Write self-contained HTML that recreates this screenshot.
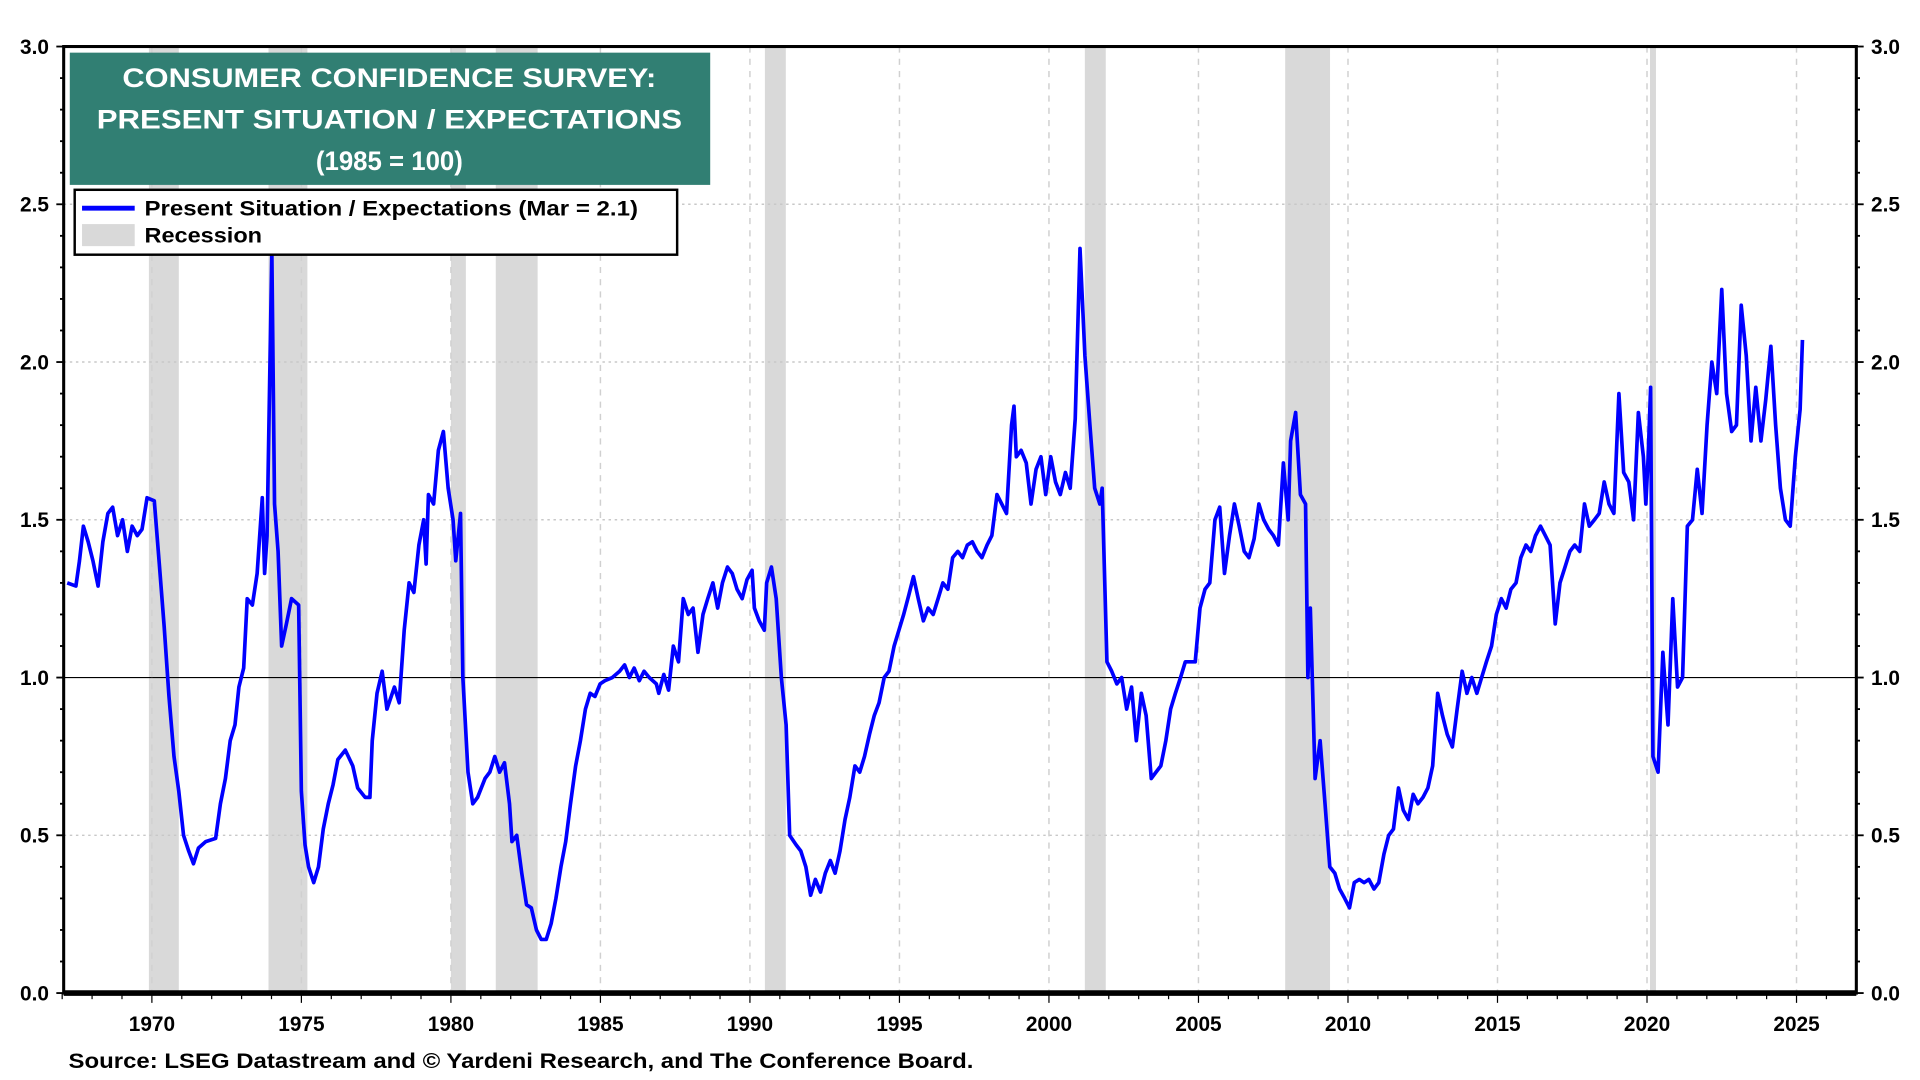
<!DOCTYPE html>
<html><head><meta charset="utf-8"><style>
html,body{margin:0;padding:0;background:#fff;}
svg{display:block;font-family:"Liberation Sans",Arial,sans-serif;font-weight:bold;}
</style></head><body>
<svg id="chart" width="1920" height="1080" viewBox="0 0 1568 882" xmlns="http://www.w3.org/2000/svg">
<g id="recessions"></g>
<g id="grid"></g>
<g id="axes"></g>
<g id="series"></g>
<rect x="52" y="38" width="1464" height="773" fill="none" stroke="#000" stroke-width="2.5"/>
<line x1="52" y1="811" x2="1516" y2="811" stroke="#000" stroke-width="4.5"/>
<g>
<rect x="57" y="43" width="523" height="108" fill="#317f73"/>
<text x="318" y="71" fill="#fff" font-size="22" text-anchor="middle" textLength="436" lengthAdjust="spacingAndGlyphs">CONSUMER CONFIDENCE SURVEY:</text>
<text x="318" y="105" fill="#fff" font-size="22" text-anchor="middle" textLength="478" lengthAdjust="spacingAndGlyphs">PRESENT SITUATION / EXPECTATIONS</text>
<text x="318" y="139" fill="#fff" font-size="22" text-anchor="middle" textLength="120" lengthAdjust="spacingAndGlyphs">(1985 = 100)</text>
</g>
<g>
<rect x="61" y="155" width="492" height="53" fill="#fff" stroke="#000" stroke-width="2"/>
<line x1="67" y1="170" x2="110" y2="170" stroke="#0000ff" stroke-width="4"/>
<text x="118" y="176" font-size="17" textLength="403" lengthAdjust="spacingAndGlyphs">Present Situation / Expectations (Mar = 2.1)</text>
<rect x="67" y="183" width="43" height="18" fill="#d9d9d9"/>
<text x="118" y="198" font-size="17" textLength="96" lengthAdjust="spacingAndGlyphs">Recession</text>
</g>
<text x="56" y="872" font-size="17" textLength="739" lengthAdjust="spacingAndGlyphs">Source: LSEG Datastream and © Yardeni Research, and The Conference Board.</text>
</svg>
<script>
const years=[1967.17,1967.46,1967.58,1967.71,1967.87,1968.03,1968.20,1968.36,1968.53,1968.69,1968.85,1969.02,1969.18,1969.34,1969.51,1969.67,1969.84,1970.08,1970.25,1970.41,1970.57,1970.74,1970.90,1971.06,1971.23,1971.39,1971.56,1971.80,1972.13,1972.29,1972.46,1972.62,1972.78,1972.91,1973.07,1973.19,1973.36,1973.52,1973.69,1973.77,1973.85,1974.01,1974.10,1974.22,1974.34,1974.50,1974.67,1974.91,1975.00,1975.12,1975.24,1975.41,1975.57,1975.73,1975.90,1976.06,1976.22,1976.47,1976.72,1976.88,1977.13,1977.29,1977.37,1977.53,1977.70,1977.86,1978.11,1978.27,1978.44,1978.60,1978.76,1978.93,1979.09,1979.17,1979.25,1979.42,1979.58,1979.75,1979.91,1980.07,1980.16,1980.32,1980.40,1980.57,1980.73,1980.89,1981.14,1981.30,1981.47,1981.63,1981.79,1981.96,1982.04,1982.20,1982.37,1982.53,1982.69,1982.86,1983.02,1983.19,1983.35,1983.51,1983.68,1983.84,1984.00,1984.17,1984.33,1984.50,1984.66,1984.82,1984.99,1985.15,1985.40,1985.64,1985.81,1985.97,1986.13,1986.30,1986.46,1986.63,1986.87,1986.95,1987.12,1987.28,1987.44,1987.61,1987.77,1987.94,1988.10,1988.26,1988.43,1988.59,1988.76,1988.92,1989.08,1989.25,1989.41,1989.57,1989.74,1989.90,1990.07,1990.15,1990.31,1990.48,1990.56,1990.72,1990.88,1991.05,1991.21,1991.33,1991.54,1991.70,1991.87,1992.03,1992.19,1992.36,1992.52,1992.69,1992.85,1993.01,1993.18,1993.34,1993.51,1993.67,1993.83,1994.00,1994.16,1994.32,1994.49,1994.65,1994.82,1994.98,1995.14,1995.31,1995.47,1995.63,1995.80,1995.96,1996.13,1996.29,1996.45,1996.62,1996.78,1996.95,1997.11,1997.27,1997.44,1997.60,1997.76,1997.93,1998.09,1998.26,1998.42,1998.58,1998.75,1998.83,1998.91,1999.07,1999.24,1999.40,1999.57,1999.73,1999.89,2000.06,2000.22,2000.38,2000.55,2000.71,2000.88,2001.04,2001.20,2001.37,2001.53,2001.70,2001.78,2001.94,2002.10,2002.27,2002.43,2002.60,2002.76,2002.92,2003.09,2003.25,2003.42,2003.58,2003.74,2003.91,2004.07,2004.23,2004.40,2004.56,2004.73,2004.89,2005.05,2005.22,2005.38,2005.55,2005.71,2005.87,2006.04,2006.20,2006.36,2006.53,2006.69,2006.86,2007.02,2007.18,2007.35,2007.51,2007.67,2007.84,2008.00,2008.08,2008.25,2008.41,2008.58,2008.66,2008.74,2008.90,2009.07,2009.23,2009.39,2009.56,2009.72,2009.89,2010.05,2010.21,2010.38,2010.54,2010.70,2010.87,2011.03,2011.20,2011.36,2011.52,2011.69,2011.85,2012.02,2012.18,2012.34,2012.51,2012.67,2012.83,2013.00,2013.16,2013.32,2013.49,2013.65,2013.82,2013.98,2014.14,2014.31,2014.47,2014.63,2014.80,2014.96,2015.13,2015.29,2015.45,2015.62,2015.78,2015.95,2016.11,2016.27,2016.44,2016.60,2016.76,2016.93,2017.09,2017.26,2017.42,2017.58,2017.75,2017.91,2018.07,2018.24,2018.40,2018.57,2018.73,2018.89,2019.06,2019.22,2019.39,2019.55,2019.71,2019.88,2019.96,2020.04,2020.12,2020.20,2020.37,2020.53,2020.70,2020.86,2021.02,2021.19,2021.35,2021.52,2021.68,2021.84,2022.01,2022.17,2022.33,2022.50,2022.66,2022.83,2022.99,2023.15,2023.32,2023.48,2023.64,2023.81,2023.97,2024.14,2024.30,2024.46,2024.63,2024.79,2024.96,2025.12,2025.20];
const ratio=[1.30,1.29,1.37,1.48,1.43,1.37,1.29,1.43,1.52,1.54,1.45,1.50,1.40,1.48,1.45,1.47,1.57,1.56,1.36,1.16,0.94,0.75,0.64,0.50,0.45,0.41,0.46,0.48,0.49,0.60,0.68,0.80,0.85,0.97,1.03,1.25,1.23,1.33,1.57,1.33,1.45,2.35,1.55,1.40,1.10,1.17,1.25,1.23,0.64,0.47,0.40,0.35,0.40,0.52,0.60,0.66,0.74,0.77,0.72,0.65,0.62,0.62,0.80,0.95,1.02,0.90,0.97,0.92,1.15,1.30,1.27,1.42,1.50,1.36,1.58,1.55,1.72,1.78,1.60,1.50,1.37,1.52,1.00,0.70,0.60,0.62,0.68,0.70,0.75,0.70,0.73,0.60,0.48,0.50,0.38,0.28,0.27,0.20,0.17,0.17,0.22,0.30,0.40,0.48,0.60,0.72,0.80,0.90,0.95,0.94,0.98,0.99,1.00,1.02,1.04,1.00,1.03,0.99,1.02,1.00,0.98,0.95,1.01,0.96,1.10,1.05,1.25,1.20,1.22,1.08,1.20,1.25,1.30,1.22,1.30,1.35,1.33,1.28,1.25,1.31,1.34,1.22,1.18,1.15,1.30,1.35,1.25,1.00,0.85,0.50,0.47,0.45,0.40,0.31,0.36,0.32,0.38,0.42,0.38,0.45,0.55,0.62,0.72,0.70,0.75,0.82,0.88,0.92,1.00,1.02,1.10,1.15,1.20,1.26,1.32,1.25,1.18,1.22,1.20,1.25,1.30,1.28,1.38,1.40,1.38,1.42,1.43,1.40,1.38,1.42,1.45,1.58,1.55,1.52,1.80,1.86,1.70,1.72,1.68,1.55,1.66,1.70,1.58,1.70,1.62,1.58,1.65,1.60,1.82,2.36,2.02,1.80,1.60,1.55,1.60,1.05,1.02,0.98,1.00,0.90,0.97,0.80,0.95,0.88,0.68,0.70,0.72,0.80,0.90,0.95,1.00,1.05,1.05,1.05,1.22,1.28,1.30,1.50,1.54,1.33,1.45,1.55,1.48,1.40,1.38,1.44,1.55,1.50,1.47,1.45,1.42,1.68,1.50,1.75,1.84,1.58,1.55,1.00,1.22,0.68,0.80,0.60,0.40,0.38,0.33,0.30,0.27,0.35,0.36,0.35,0.36,0.33,0.35,0.44,0.50,0.52,0.65,0.58,0.55,0.63,0.60,0.62,0.65,0.72,0.95,0.88,0.82,0.78,0.90,1.02,0.95,1.00,0.95,1.00,1.05,1.10,1.20,1.25,1.22,1.28,1.30,1.38,1.42,1.40,1.45,1.48,1.45,1.42,1.17,1.30,1.35,1.40,1.42,1.40,1.55,1.48,1.50,1.52,1.62,1.55,1.52,1.90,1.65,1.62,1.50,1.84,1.70,1.55,1.70,1.92,0.75,0.70,1.08,0.85,1.25,0.97,1.00,1.48,1.50,1.66,1.52,1.80,2.00,1.90,2.23,1.90,1.78,1.80,2.18,2.02,1.75,1.92,1.75,1.88,2.05,1.80,1.60,1.50,1.48,1.70,1.85,2.07];
const recStart=[1969.9,1973.9,1980.0,1981.5,1990.5,2001.2,2007.9,2020.1];
const recEnd=[1970.9,1975.2,1980.5,1982.9,1991.2,2001.9,2009.4,2020.3];
const yTicks=[0,0.5,1,1.5,2,2.5,3];
const yTickLabels=["0.0","0.5","1.0","1.5","2.0","2.5","3.0"];
const xTicks=[1970,1975,1980,1985,1990,1995,2000,2005,2010,2015,2020,2025];

const NS="http://www.w3.org/2000/svg";
const L=52,R=1516,T=38,B=811,X0=1967.05,X1=2027.0,Y0=0,Y1=3;
function xs(v){return L+(v-X0)/(X1-X0)*(R-L);}
function ys(v){return B-(v-Y0)/(Y1-Y0)*(B-T);}
function mk(tag,attrs,parent){const e=document.createElementNS(NS,tag);for(const k in attrs)e.setAttribute(k,attrs[k]);parent.appendChild(e);return e;}

const rg=document.getElementById('recessions');
for(let i=0;i<recStart.length;i++){
  const r=mk('rect',{x:xs(recStart[i]),y:T,width:xs(recEnd[i])-xs(recStart[i]),height:B-T,fill:'#d9d9d9'},rg);
  
  
}
const gg=document.getElementById('grid');
yTicks.forEach(v=>{
  if(v===0||v===3)return;
  const l=mk('line',{x1:L,x2:R,y1:ys(v),y2:ys(v),stroke:v===1?'#000':'#c8c8c8','stroke-width':v===1?1:1.2,'stroke-dasharray':v===1?'none':'2,3'},gg);
  
  
});
xTicks.forEach(v=>{
  const l=mk('line',{x1:xs(v),x2:xs(v),y1:T,y2:B,stroke:'#d0d0d0','stroke-width':1.2,'stroke-dasharray':'5,5'},gg);
  
  
});
const ag=document.getElementById('axes');
for(let v=0;v<=3.0001;v+=0.1){
  const major=Math.abs(v*2-Math.round(v*2))<1e-6;
  const len=major?6:3;
  mk('line',{x1:L-len,x2:L,y1:ys(v),y2:ys(v),stroke:'#000','stroke-width':1.5},ag);
  mk('line',{x1:R,x2:R+len,y1:ys(v),y2:ys(v),stroke:'#000','stroke-width':1.5},ag);
}
yTicks.forEach((v,i)=>{
  const t=mk('text',{x:40,y:ys(v)+6,'font-size':17,'text-anchor':'end'},ag);
  t.textContent=yTickLabels[i];
  
  
  const t2=mk('text',{x:1528,y:ys(v)+6,'font-size':17,'text-anchor':'start'},ag);
  t2.textContent=yTickLabels[i];
  
  
});
for(let y=1967;y<=2026;y++){
  const major=y%5===0;
  mk('line',{x1:xs(y),x2:xs(y),y1:B,y2:B+(major?8:5),stroke:'#000','stroke-width':1},ag);
}
xTicks.forEach(v=>{
  const t=mk('text',{x:xs(v),y:842,'font-size':17,'text-anchor':'middle'},ag);
  t.textContent=String(v);
  
  
});
const sg=document.getElementById('series');
const d=years.map((y,i)=>(i?'L':'M')+xs(y).toFixed(1)+','+ys(ratio[i]).toFixed(1)).join('');
const p=mk('path',{d:d,fill:'none',stroke:'#0000ff','stroke-width':3,'stroke-linejoin':'round'},sg);


</script>
</body></html>
